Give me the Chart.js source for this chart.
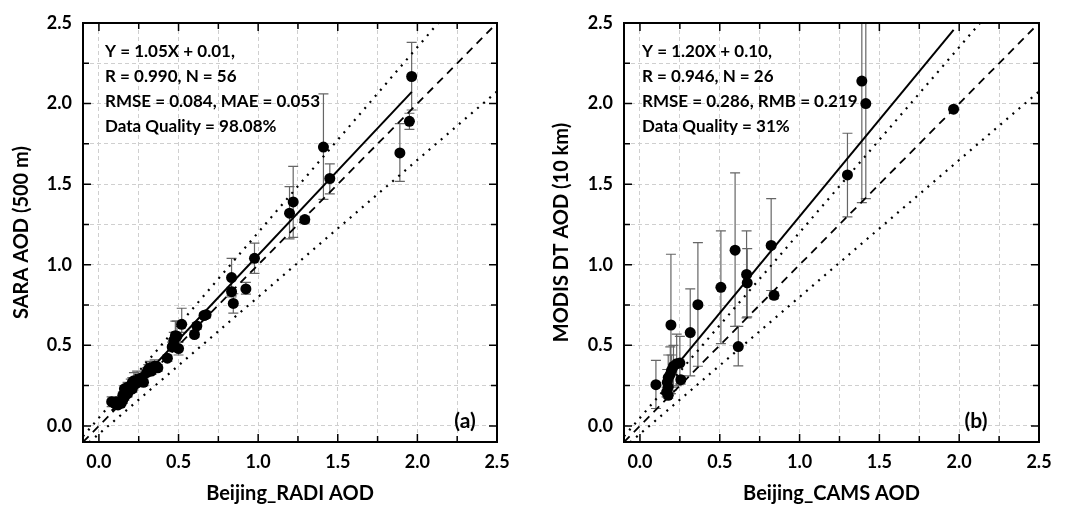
<!DOCTYPE html>
<html><head><meta charset="utf-8">
<script src="https://cdn.jsdelivr.net/npm/chart.js@4.4.1/dist/chart.umd.min.js"></script>
<style>
html,body{margin:0;padding:0;background:#fff;}
#wrap{position:relative;width:1067px;height:506px;overflow:hidden;}
.box{position:absolute;top:0;height:506px;}
</style></head><body>
<div id="wrap">
<div class="box" style="left:0;width:533px"><canvas id="ca" width="533" height="506"></canvas></div>
<div class="box" style="left:533px;width:534px"><canvas id="cb" width="534" height="506"></canvas></div>
</div>
<script>
// ---------- shared axis ticks ----------
const gridTicks = [0, 0.25, 0.5, 0.75, 1.0, 1.25, 1.5, 1.75, 2.0, 2.25, 2.5];
const labelTicks = [0, 0.5, 1.0, 1.5, 2.0, 2.5];

// ---------- panel (a) ----------
const aTitleX = 'Beijing_RADI AOD';
const aTitleY = 'SARA AOD (500 m)';
const aX = [1.964,1.95,1.89,1.41,1.45,1.22,1.197,1.293,0.977,0.833,0.833,0.844,0.923,0.673,0.66,0.615,0.60,0.52,0.49,0.47,0.50,
  0.08,0.10,0.11,0.12,0.14,0.15,0.16,0.16,0.17,0.18,0.18,0.19,0.20,0.21,0.21,0.22,0.23,0.24,0.25,0.26,0.27,0.28,0.30,0.31,0.32,0.33,0.35,0.36,0.37,0.43,0.46,0.47,0.48,0.15,0.13];
const aY = [2.168,1.89,1.694,1.73,1.535,1.39,1.32,1.28,1.04,0.92,0.833,0.76,0.85,0.69,0.685,0.62,0.567,0.63,0.556,0.50,0.48,
  0.15,0.14,0.15,0.13,0.14,0.16,0.18,0.23,0.21,0.20,0.24,0.22,0.25,0.27,0.23,0.28,0.26,0.27,0.29,0.28,0.30,0.27,0.33,0.35,0.36,0.34,0.37,0.37,0.36,0.42,0.49,0.53,0.56,0.19,0.15];
const aLo = [1.96,1.84,1.517,1.405,1.44,1.17,1.16,1.26,0.946,0.80,0.81,0.70,0.817,0.67,0.67,0.60,0.55,0.58,0.52,0.46,0.44,
  0.12,0.12,0.13,0.12,0.13,0.14,0.16,0.21,0.19,0.18,0.22,0.20,0.23,0.25,0.21,0.25,0.24,0.25,0.26,0.26,0.28,0.25,0.31,0.33,0.33,0.32,0.35,0.35,0.34,0.40,0.47,0.50,0.52,0.17,0.14];
const aHi = [2.38,1.94,1.875,2.06,1.626,1.61,1.485,1.30,1.134,1.04,0.86,0.82,0.89,0.71,0.70,0.64,0.59,0.73,0.65,0.54,0.52,
  0.18,0.17,0.17,0.15,0.16,0.18,0.21,0.25,0.24,0.22,0.27,0.25,0.29,0.30,0.25,0.33,0.29,0.34,0.32,0.30,0.32,0.29,0.36,0.38,0.40,0.36,0.41,0.39,0.38,0.44,0.52,0.58,0.65,0.21,0.17];
const aFit = [[0.08, 0.094], [1.965, 2.073]];
const aStats = ['Y = 1.05X + 0.01,', 'R = 0.990, N = 56', 'RMSE = 0.084, MAE = 0.053', 'Data Quality = 98.08%'];
const aPanel = '(a)';

// ---------- panel (b) ----------
const bTitleX = 'Beijing_CAMS AOD';
const bTitleY = 'MODIS DT AOD (10 km)';
const bX = [1.39,1.415,1.965,1.30,0.822,0.84,0.596,0.668,0.672,0.507,0.363,0.616,0.315,0.194,0.10,0.25,0.23,0.21,0.198,0.19,0.177,0.171,0.177,0.167,0.177,0.256];
const bY = [2.14,2.0,1.965,1.557,1.12,0.81,1.09,0.94,0.888,0.86,0.752,0.492,0.579,0.626,0.256,0.39,0.386,0.37,0.345,0.32,0.30,0.27,0.24,0.21,0.19,0.287];
const bLo = [1.385,1.41,1.965,1.297,0.84,0.79,0.617,0.67,0.677,0.51,0.37,0.372,0.31,0.20,0.108,0.26,0.25,0.24,0.22,0.20,0.19,0.18,0.19,0.18,0.17,0.26];
const bHi = [2.9,2.7,1.965,1.816,1.41,0.83,1.57,1.21,1.10,1.21,1.137,0.617,0.85,1.065,0.406,0.555,0.57,0.50,0.44,0.49,0.44,0.35,0.29,0.24,0.21,0.31];
const bFit = [[0.17, 0.304], [1.965, 2.458]];
const bStats = ['Y = 1.20X + 0.10,', 'R = 0.946, N = 26', 'RMSE = 0.286, RMB = 0.219', 'Data Quality = 31%'];
const bPanel = '(b)';

// ---------- reference lines (both panels) ----------
const oneToOne = [[-0.1, -0.1], [2.5, 2.5]];
const eeUpper = [[-0.1, -0.065], [2.5, 2.925]];
const eeLower = [[-0.1, -0.135], [2.5, 2.075]];

const FONT = 'Lato';
const pts = arr => arr.map(p => ({x: p[0], y: p[1]}));
const isLabel = v => labelTicks.some(t => Math.abs(t - v) < 1e-9);

function makeChart(id, o) {
  const errPlugin = {
    id: 'err_' + id,
    beforeDatasetsDraw(chart) {
      const {ctx, chartArea: a, scales: {x, y}} = chart;
      ctx.save();
      ctx.beginPath(); ctx.rect(a.left, a.top, a.width, a.height); ctx.clip();
      ctx.strokeStyle = '#666'; ctx.lineWidth = 1.2;
      o.xs.forEach((xv, i) => {
        const lo = o.lo[i], hi = o.hi[i];
        if (lo === hi) return;
        const px = x.getPixelForValue(xv), pl = y.getPixelForValue(lo), ph = y.getPixelForValue(hi);
        ctx.beginPath();
        ctx.moveTo(px, pl); ctx.lineTo(px, ph);
        ctx.moveTo(px - 5, pl); ctx.lineTo(px + 5, pl);
        ctx.moveTo(px - 5, ph); ctx.lineTo(px + 5, ph);
        ctx.stroke();
      });
      ctx.restore();
    }
  };
  const framePlugin = {
    id: 'frame_' + id,
    afterDraw(chart) {
      const {ctx, chartArea: a, scales: {x, y}} = chart;
      ctx.save();
      ctx.strokeStyle = '#000';
      ctx.lineWidth = 1.5;
      gridTicks.forEach(v => {
        const L = isLabel(v) ? 8 : 6;
        const px = x.getPixelForValue(v), py = y.getPixelForValue(v);
        ctx.beginPath();
        ctx.moveTo(px, a.bottom); ctx.lineTo(px, a.bottom - L);
        ctx.moveTo(px, a.top); ctx.lineTo(px, a.top + L);
        ctx.moveTo(a.left, py); ctx.lineTo(a.left + L, py);
        ctx.moveTo(a.right, py); ctx.lineTo(a.right - L, py);
        ctx.stroke();
      });
      ctx.lineWidth = 2;
      ctx.strokeRect(a.left, a.top, a.width, a.height);
      ctx.fillStyle = '#000';
      ctx.font = 'bold 17px ' + FONT;
      ctx.textAlign = 'left'; ctx.textBaseline = 'middle';
      o.stats.forEach((t, i) => ctx.fillText(t, a.left + o.textDx, a.top + 29 + i * 25));
      ctx.font = 'bold 21px ' + FONT;
      ctx.textAlign = 'center';
      ctx.fillText(o.panel, a.right - o.panelDx, a.bottom - 21);
      ctx.restore();
    }
  };
  const axisCommon = (title, pad, fitFn) => ({
    type: 'linear', min: -0.1, max: 2.5,
    afterBuildTicks: s => { s.ticks = gridTicks.map(v => ({value: v})); },
    afterFit: fitFn,
    grid: {color: '#cfcfcf', lineWidth: 1, drawTicks: false},
    border: {display: false, dash: [4, 3]},
    ticks: {padding: pad, color: '#000', autoSkip: false, maxRotation: 0,
      font: {family: FONT, size: 18, weight: 'bold'},
      callback: v => isLabel(v) ? Number(v).toFixed(1) : ''},
    title: {display: true, text: title, color: '#000', font: {family: FONT, size: 20, weight: 'bold'}}
  });
  const xAxis = axisCommon(o.titleX, 9, s => { s.height = 64; });
  xAxis.title.padding = {top: 0, bottom: 0};
  const yAxis = axisCommon(o.titleY, 11, s => { s.width = o.yWidth; });
  yAxis.title.padding = {top: o.yTitlePad, bottom: 0};

  return new Chart(document.getElementById(id), {
    data: {
      datasets: [
        {type: 'scatter', data: o.xs.map((v, i) => ({x: v, y: o.ys[i]})), pointRadius: 5.5, pointHoverRadius: 5.5,
          backgroundColor: '#000', borderWidth: 0, order: 0},
        {type: 'line', data: pts(o.fit), borderColor: '#000', borderWidth: 2, pointRadius: 0, fill: false, order: 1},
        {type: 'line', data: pts(oneToOne), borderColor: '#000', borderWidth: 1.8, borderDash: [8, 6], pointRadius: 0, fill: false, order: 2},
        {type: 'line', data: pts(eeUpper), borderColor: '#000', borderWidth: 2.2, borderDash: [2, 6], pointRadius: 0, fill: false, order: 3},
        {type: 'line', data: pts(eeLower), borderColor: '#000', borderWidth: 2.2, borderDash: [2, 6], pointRadius: 0, fill: false, order: 4}
      ]
    },
    options: {
      responsive: false, animation: false, events: [],
      layout: {padding: {top: 23, bottom: 0, left: 0, right: o.padRight}},
      scales: {x: xAxis, y: yAxis},
      plugins: {legend: {display: false}, tooltip: {enabled: false}}
    },
    plugins: [errPlugin, framePlugin]
  });
}

makeChart('ca', {xs: aX, ys: aY, lo: aLo, hi: aHi, fit: aFit, stats: aStats, panel: aPanel,
  titleX: aTitleX, titleY: aTitleY, yWidth: 83, padRight: 36, yTitlePad: 10, textDx: 22, panelDx: 32});
makeChart('cb', {xs: bX, ys: bY, lo: bLo, hi: bHi, fit: bFit, stats: bStats, panel: bPanel,
  titleX: bTitleX, titleY: bTitleY, yWidth: 91, padRight: 28, yTitlePad: 17, textDx: 18, panelDx: 63});
</script>
</body></html>
